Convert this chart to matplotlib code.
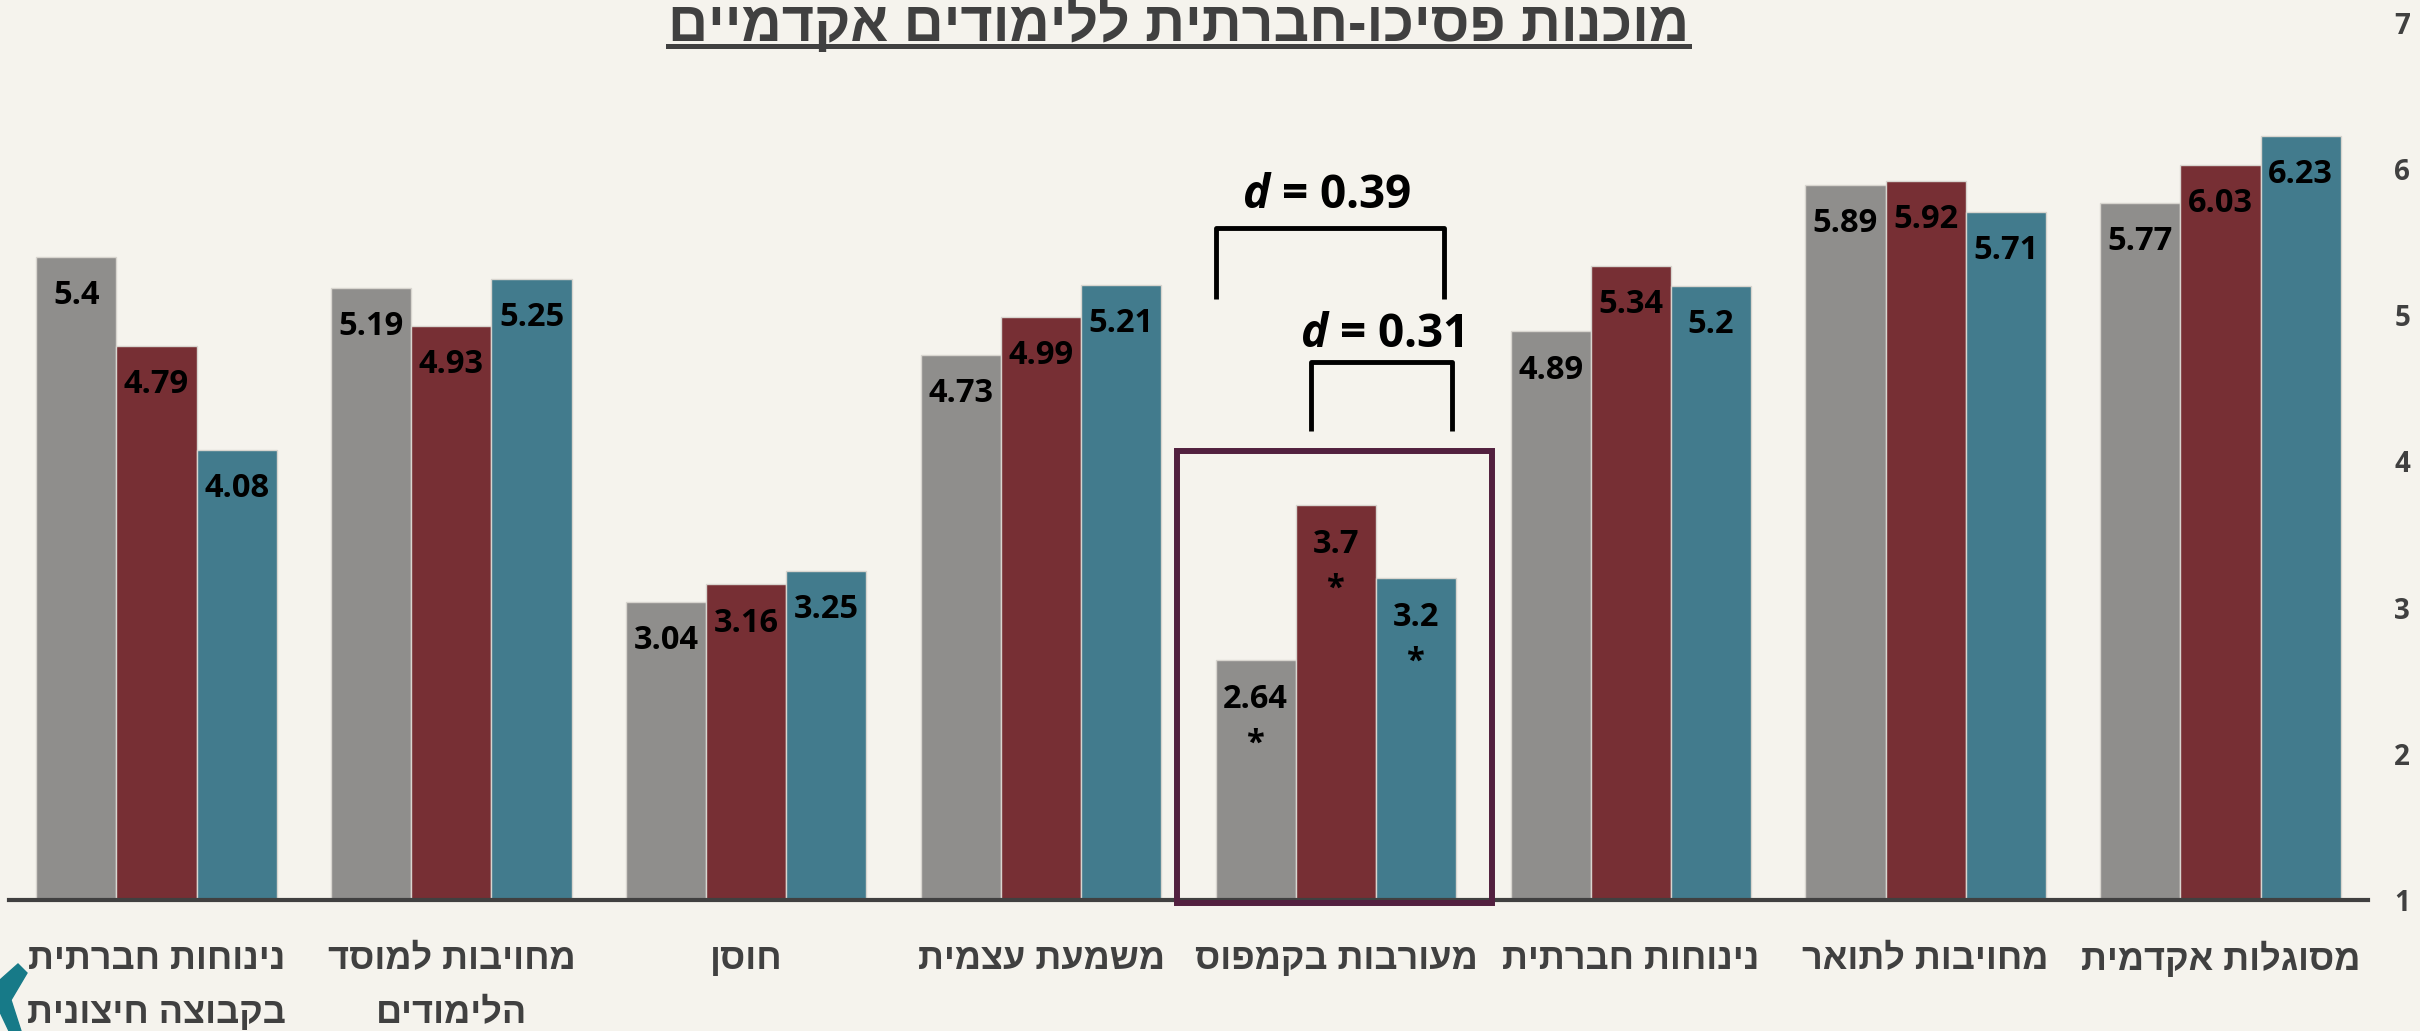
import matplotlib
matplotlib.use("Agg")
import matplotlib.pyplot as plt
import numpy as np
from matplotlib.patches import Rectangle, Polygon
from matplotlib.lines import Line2D

# data, in Hebrew reading order (right to left on the chart)
categories = ["מסוגלות אקדמית", "מחויבות לתואר", "נינוחות חברתית", "מעורבות בקמפוס",
              "משמעת עצמית", "חוסן", "מחויבות למוסד\nהלימודים", "נינוחות חברתית\nבקבוצה חיצונית"]
gray_vals = [5.77, 5.89, 4.89, 2.64, 4.73, 3.04, 5.19, 5.4]
red_vals = [6.03, 5.92, 5.34, 3.7, 4.99, 3.16, 4.93, 4.79]
teal_vals = [6.23, 5.71, 5.2, 3.2, 5.21, 3.25, 5.25, 4.08]
starred = [False, False, False, True, False, False, False, False]
yticks = [1, 2, 3, 4, 5, 6, 7]
title = "מוכנות פסיכו-חברתית ללימודים אקדמיים"
highlight = "מעורבות בקמפוס"
effects = ["0.39", "0.31"]

BG = "#f5f3ed"
DARK = "#404040"
colors = ["#8f8e8c", "#772f34", "#427b8d"]
HEB = ["Liberation Sans", "DejaVu Sans"]
NUM = ["Open Sans", "DejaVu Sans"]

plt.rcParams["mathtext.fontset"] = "custom"
plt.rcParams["mathtext.bfit"] = "Open Sans:italic:bold"


def heb(s):
    # matplotlib has no bidi support: flip each line by hand
    return "\n".join(line[::-1] for line in s.split("\n"))


n = len(categories)
pos = n - 1 - np.arange(n)
w = 0.272
offs = [-w, 0, w]

fig = plt.figure(figsize=(24.2, 10.31), dpi=100, facecolor=BG)
ax = fig.add_axes([9 / 2420, 1 - 900 / 1031, (2368 - 9) / 2420, (900 - 23) / 1031])
ax.set_facecolor(BG)

for vals, off, c in zip([gray_vals, red_vals, teal_vals], offs, colors):
    ax.bar(pos + off, vals, width=w, color=c, edgecolor="#d8d5cf", linewidth=1, zorder=2)
    for p, v, s in zip(pos, vals, starred):
        txt = f"{v:g}" + ("\n*" if s else "")
        ax.annotate(txt, (p + off, v), xytext=(0, -16), textcoords="offset points",
                    ha="center", va="top", fontsize=23.5, fontweight="bold",
                    family=NUM, color="black", linespacing=1.5, zorder=3)

ax.set_xlim(-0.5, n - 0.5)
ax.set_ylim(1, 7)
ax.set_xticks(pos)
ax.set_xticklabels([heb(c) for c in categories], fontsize=26, fontweight="bold",
                   family=HEB, color=DARK, linespacing=1.72)
ax.set_yticks(yticks)
ax.set_yticklabels([str(t) for t in yticks], fontsize=20, fontweight="bold",
                   family=NUM, color=DARK)
ax.yaxis.tick_right()
ax.tick_params(axis="x", length=0, pad=30)
ax.tick_params(axis="y", length=0, pad=19)
for s in ["top", "left", "right"]:
    ax.spines[s].set_visible(False)
ax.spines["bottom"].set_linewidth(3)
ax.spines["bottom"].set_color(DARK)
ax.spines["bottom"].set_zorder(4)

# highlighted group with effect size brackets
hp = pos[categories.index(highlight)]
ax.add_patch(Rectangle((hp - 0.538, 0.98), 1.066, 3.09, fill=False, edgecolor="#52203f",
                       linewidth=4.3, clip_on=False, zorder=5))

brackets = [(-0.408, 0.366, 5.11, 5.6), (-0.084, 0.392, 4.21, 4.68)]
label_x = [-0.03, 0.157]
label_y = [5.82, 4.87]
for (x0, x1, yb, yt), d, lx, ly in zip(brackets, effects, label_x, label_y):
    ax.plot([hp + x0, hp + x0, hp + x1, hp + x1], [yb, yt, yt, yb], color="black", lw=3.5,
            solid_joinstyle="round", solid_capstyle="butt", clip_on=False, zorder=5)
    ax.text(hp + lx, ly, r"$\mathbfit{d}$ = " + d, ha="center", va="center", fontsize=33,
            fontweight="bold", family=NUM, color="black", zorder=5)

# title, underlined
t = fig.text(0.487, 1 - 41 / 1031, heb(title), ha="center", va="baseline", fontsize=40,
             fontweight="bold", family=HEB, color=DARK)
fig.canvas.draw()
bb = t.get_window_extent(fig.canvas.get_renderer())
fig.add_artist(Line2D([bb.x0 / 2420, bb.x1 / 2420], [1 - 46 / 1031] * 2, color=DARK,
                      lw=3.6, transform=fig.transFigure))

# small teal chevron in the bottom-left corner
chev = np.array([(0, 980), (18, 964), (27, 973), (11, 1000), (21, 1031), (9, 1031), (0, 1012)])
fig.add_artist(Polygon(np.c_[chev[:, 0] / 2420, 1 - chev[:, 1] / 1031], closed=True,
                       color="#177a88", transform=fig.transFigure))

fig.savefig("out.png", dpi=100, facecolor=BG)
